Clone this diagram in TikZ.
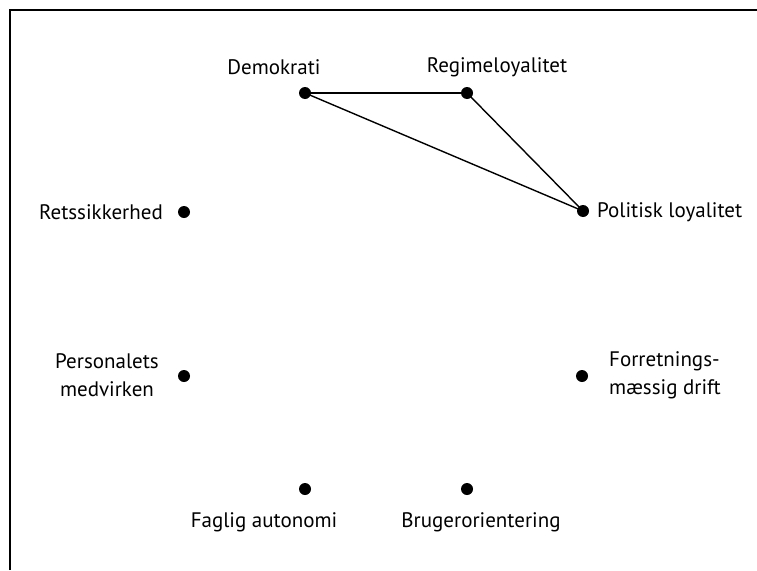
\documentclass[tikz,border=0pt]{standalone}
\usepackage{fontspec}
\setmainfont{PT Sans}
\begin{document}
\begin{tikzpicture}[x=1pt,y=-1pt,
  dot/.style={circle,fill=black,inner sep=0pt,minimum size=12pt},
  lbl/.style={font=\fontsize{21}{28}\selectfont,inner sep=0pt,align=center,text=black},
  link/.style={line width=1.4pt},
  strong/.style={line width=2.6pt}]
\useasboundingbox (0,0) rectangle (757,570);
% frame
\draw[line width=2pt] (10,570) -- (10,10) -- (757,10);
% points
\node[dot] (dem) at (305,93) {};
\node[dot] (reg) at (467,93) {};
\node[dot] (pol) at (583,211) {};
\node[dot] (ret) at (184,212) {};
\node[dot] (per) at (184,376) {};
\node[dot] (for) at (582,376) {};
\node[dot] (fag) at (305,489) {};
\node[dot] (bru) at (467,489) {};
% labels
\node[lbl] (demL) at (274,67) {Demokrati};
\node[lbl] (regL) at (497,67) {Regimeloyalitet};
\node[lbl,anchor=west] (polL) at (597,212) {Politisk loyalitet};
\node[lbl,anchor=east] (retL) at (163,212) {Retssikkerhed};
\node[lbl] (perL) at (107,375) {Personalets\\medvirken};
\node[lbl,anchor=west,align=left] (forL) at (609,375) {Forretnings-\\mæssig drift};
\node[lbl] (fagL) at (264,522) {Faglig autonomi};
\node[lbl] (bruL) at (481,522) {Brugerorientering};
% connections
\draw[strong] (dem.center) -- (reg.center);
\draw[link] (dem.center) -- (pol.center);
\draw[link] (reg.center) -- (pol.center);
\end{tikzpicture}
\end{document}
